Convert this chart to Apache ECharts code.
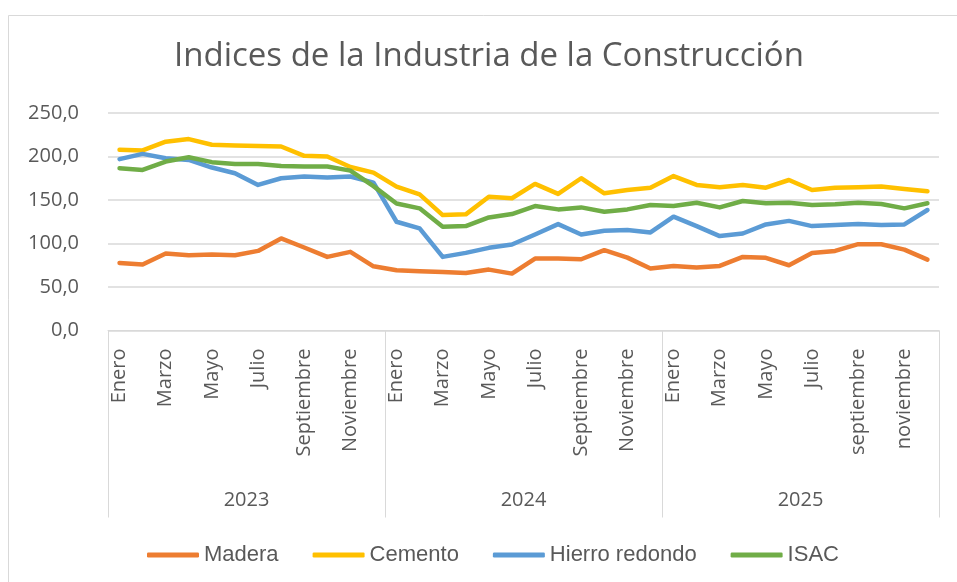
<!DOCTYPE html>
<html>
<head>
<meta charset="utf-8">
<script src="https://cdn.jsdelivr.net/npm/echarts@6/dist/echarts.min.js"></script>
<style>
  html, body { margin: 0; padding: 0; background: #fff; }
  #chart { width: 957px; height: 582px; }
</style>
</head>
<body>
<div id="chart"></div>
<script>
// meses (eje de primer nivel) y años (eje de segundo nivel)
const months = [
  'Enero', 'Febrero', 'Marzo', 'Abril', 'Mayo', 'Junio', 'Julio', 'Agosto', 'Septiembre', 'Octubre', 'Noviembre', 'Diciembre',
  'Enero', 'Febrero', 'Marzo', 'Abril', 'Mayo', 'Junio', 'Julio', 'Agosto', 'Septiembre', 'Octubre', 'Noviembre', 'Diciembre',
  'Enero', 'Febrero', 'Marzo', 'Abril', 'Mayo', 'Junio', 'Julio', 'agosto', 'septiembre', 'octubre', 'noviembre', 'diciembre'
]
const years = ['2023', '2024', '2025']
const seriesNames = ['Madera', 'Cemento', 'Hierro redondo', 'ISAC']

// valores
const madera = [
  77.7, 75.8, 88.5, 86.5, 87.3, 86.5, 91.5, 105.8, 95.4, 84.6, 90.4, 73.8,
  69.2, 68.1, 67.3, 66.2, 70.0, 65.4, 82.7, 82.7, 81.9, 92.3, 83.8, 71.2,
  74.2, 72.3, 74.2, 84.6, 83.5, 75.0, 89.2, 91.5, 99.2, 99.2, 93.0, 81.5
]
const cemento = [
  207.7, 207.0, 217.0, 220.0, 213.5, 212.7, 212.0, 211.5, 200.8, 200.0, 188.0, 181.5,
  165.4, 156.5, 132.7, 133.5, 153.8, 152.0, 168.5, 157.0, 175.0, 157.7, 161.5, 164.0,
  177.5, 167.3, 164.6, 167.3, 164.2, 173.0, 161.5, 164.2, 164.6, 165.4, 162.7, 160.0
]
const hierro = [
  197.0, 203.0, 198.0, 196.0, 187.3, 180.8, 167.3, 175.0, 177.0, 175.8, 177.0, 170.0,
  125.0, 117.3, 84.6, 89.2, 95.0, 98.8, 110.4, 122.3, 110.4, 114.6, 115.4, 112.7,
  130.8, 120.0, 108.5, 111.5, 121.9, 126.0, 120.0, 121.2, 122.3, 121.2, 121.9, 138.5
]
const isac = [
  186.5, 184.6, 194.2, 199.2, 193.5, 191.5, 191.5, 189.2, 188.5, 188.5, 183.8, 166.0,
  146.0, 140.4, 119.2, 120.0, 130.0, 133.8, 143.0, 139.2, 141.5, 136.5, 139.2, 144.2,
  143.0, 146.9, 141.5, 148.8, 146.2, 146.9, 144.2, 145.0, 146.9, 145.4, 140.4, 146.2
]
const yTicks = { min: 0, max: 250, step: 50 }

const colors = ['#ED7D31', '#FFC000', '#5B9BD5', '#70AD47']
const gridColor = '#d9d9d9'
const textColor = '#595959'
const font = "'Open Sans', 'Liberation Sans', sans-serif"

const chart = echarts.init(document.getElementById('chart'), null, { renderer: 'canvas' })

function lineSeries(name, data, color) {
  return {
    name: name,
    type: 'line',
    xAxisIndex: 0,
    data: data,
    showSymbol: false,
    symbol: 'none',
    smooth: false,
    lineStyle: { color: color, width: 4.5, cap: 'round', join: 'round' },
    itemStyle: { color: color },
    animation: false
  }
}

const option = {
  backgroundColor: '#fff',
  animation: false,
  color: colors,
  title: {
    text: 'Indices de la Industria de la Construcción',
    left: 484,
    textAlign: 'center',
    top: 35,
    textStyle: { fontFamily: font, fontSize: 33, fontWeight: 'normal', color: textColor }
  },
  // marco exterior del gráfico
  graphic: [{
    type: 'rect',
    shape: { x: 8.5, y: 15.5, width: 1000, height: 1000 },
    style: { fill: 'none', stroke: gridColor, lineWidth: 1 },
    silent: true
  }],
  legend: {
    data: seriesNames,
    left: 142,
    top: 539,
    itemWidth: 52,
    itemHeight: 5,
    itemGap: 34,
    icon: 'roundRect',
    textStyle: { fontFamily: "'Liberation Sans', Arial, sans-serif", fontSize: 22, color: textColor }
  },
  grid: {
    left: 108,
    right: 18,
    top: 113,
    bottom: 251.5,
    containLabel: false
  },
  xAxis: [
    {
      type: 'category',
      data: months,
      position: 'bottom',
      boundaryGap: true,
      axisLine: { show: true, lineStyle: { color: gridColor, width: 1 } },
      axisTick: { show: false },
      axisLabel: {
        interval: 1,
        rotate: 90,
        margin: 18,
        fontFamily: font,
        fontSize: 20,
        color: textColor
      },
      splitLine: { show: false }
    },
    {
      type: 'category',
      data: years,
      position: 'bottom',
      boundaryGap: true,
      axisLine: { show: false },
      axisTick: { show: true, interval: 0, length: 187, lineStyle: { color: gridColor, width: 1 } },
      axisLabel: {
        interval: 0,
        margin: 160,
        fontFamily: font,
        fontSize: 20,
        color: textColor
      },
      splitLine: { show: false }
    }
  ],
  yAxis: {
    type: 'value',
    min: yTicks.min,
    max: yTicks.max,
    interval: yTicks.step,
    axisLine: { show: false },
    axisTick: { show: false },
    axisLabel: {
      margin: 29,
      fontFamily: font,
      fontSize: 20,
      color: textColor,
      formatter: function (v) { return v.toFixed(1).replace('.', ',') }
    },
    splitLine: { show: true, lineStyle: { color: gridColor, width: 1.5 } }
  },
  series: [
    lineSeries(seriesNames[0], madera, colors[0]),
    lineSeries(seriesNames[1], cemento, colors[1]),
    lineSeries(seriesNames[2], hierro, colors[2]),
    lineSeries(seriesNames[3], isac, colors[3])
  ]
}

chart.setOption(option)
</script>
</body>
</html>
